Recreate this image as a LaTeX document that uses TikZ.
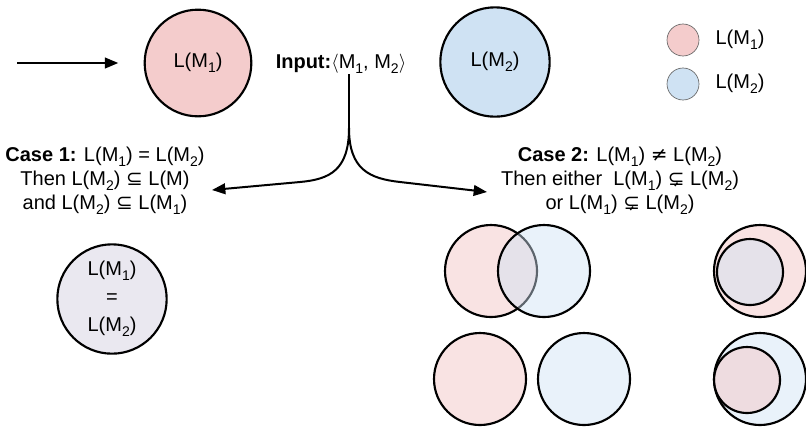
\documentclass[tikz,border=0pt]{standalone}
\usepackage{fontspec}
\setmainfont{Liberation Sans}
\newfontfamily\symf{DejaVu Sans}
\usetikzlibrary{arrows.meta,positioning}
\newcommand{\sbs}[1]{\raisebox{-3.5pt}{\fontsize{10.5}{10.5}\selectfont #1}}
\newcommand{\LM}[1]{L(M\sbs{#1})}
\newcommand{\subeq}{{\symf ⊆}}
\newcommand{\psub}{{\symf ⊊}}
\newcommand{\noteq}{{\symf ≠}}
\definecolor{pinkfill}{HTML}{F4CCCC}
\definecolor{bluefill}{HTML}{CFE2F3}
\definecolor{samefill}{HTML}{EAE8F0}
\definecolor{legline}{HTML}{666666}

\begin{document}
\begin{tikzpicture}[x=0.75pt,y=-0.75pt,font=\fontsize{15}{18}\selectfont]
        %
        % `bigset' is used for the labelled languages.
        % `venn' and `innervenn' are used for the small pictures of case 2.
        % `legdot' is used for the legend.
        \tikzstyle{bigset} = [draw,circle,line width=1.6pt,minimum size=80pt,inner sep=0pt]
        \tikzstyle{venn} = [draw,circle,line width=1.6pt,minimum size=69pt,inner sep=0pt]
        \tikzstyle{innervenn} = [venn,minimum size=49.5pt]
        \tikzstyle{legdot} = [draw=legline,circle,line width=0.5pt,minimum size=24pt,inner sep=0pt]
        \tikzstyle{pinkset} = [fill=pinkfill,fill opacity=0.55]
        \tikzstyle{blueset} = [fill=bluefill,fill opacity=0.45]
        \tikzstyle{arrow} = [line width=1.5pt,-{Triangle[length=10pt,width=8pt]}]
        \useasboundingbox (0,0) rectangle (806,426);
        %
        % Top row
        \coordinate (start) at (17,63);
        \node[bigset,fill=pinkfill] (lm1) at (198,63) {\LM{1}};
        \node (input) at (341,64) {\textbf{Input:}$\langle$M\sbs{1}, M\sbs{2}$\rangle$};
        \node[bigset,fill=bluefill,minimum size=82pt] (lm2) at (495,62) {\LM{2}};
        \draw[arrow,shorten >=19pt] (start) -- (lm1);
        %
        % Legend
        \node[legdot,fill=pinkfill] (leg1) at (683,40) {};
        \node[right=12pt of leg1,inner sep=0pt] (leg1txt) {\LM{1}};
        \node[legdot,fill=bluefill] (leg2) at (683,84) {};
        \node[right=12pt of leg2,inner sep=0pt] (leg2txt) {\LM{2}};
        %
        % Fork
        \coordinate (stemtop) at (349,74);
        \coordinate (fork) at (349,128);
        \coordinate (tip1) at (212,190);
        \coordinate (tip2) at (487,192);
        \draw[line width=1.5pt] (stemtop) -- (fork);
        \draw[arrow] (fork) .. controls +(0,42) and +(30,-2.7) .. (300,182) -- (tip1);
        \draw[arrow] (fork) .. controls +(0,42) and +(-30,-3.4) .. (400,182) -- (tip2);
        %
        % Case 1
        \node[align=center] (case1) at (105,181)
        	{\textbf{Case 1:} \LM{1} = \LM{2}\\Then \LM{2} \subeq\ L(M)\\and \LM{2} \subeq\ \LM{1}};
        \node[bigset,fill=samefill,minimum size=82pt,align=center,
        	font=\fontsize{15}{21}\selectfont] (same) at (112,299) {\LM{1}\\=\\\LM{2}};
        %
        % Case 2
        \node[align=center] (case2) at (620,181)
        	{\textbf{Case 2:} \LM{1} \noteq\ \LM{2}\\Then either\ \ \LM{1} \psub\ \LM{2}\\or \LM{1} \psub\ \LM{2}};
        % Overlapping
        \node[venn,pinkset] (over1) at (491,271) {};
        \node[venn,blueset] (over2) at (544,271) {};
        % Disjoint
        \node[venn,pinkset] (apart1) at (480,379) {};
        \node[venn,blueset] (apart2) at (584,379) {};
        % Contained
        \node[venn,pinkset] (outer1) at (760,271) {};
        \node[innervenn,blueset] (inner1) at (750,272) {};
        \node[venn,blueset] (outer2) at (760,379) {};
        \node[innervenn,pinkset] (inner2) at (747,380) {};
        %
\end{tikzpicture}
\end{document}
